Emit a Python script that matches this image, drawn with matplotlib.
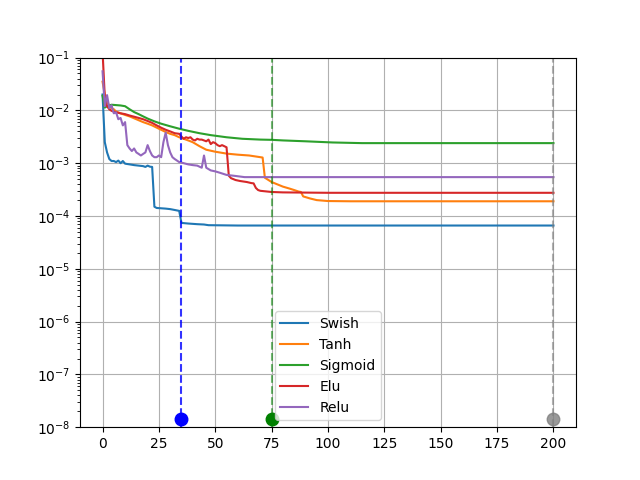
import matplotlib
matplotlib.use("Agg")
import matplotlib.pyplot as plt

swish_x = [0, 1, 2, 3, 4, 5, 6, 7, 8, 9, 10, 12, 14, 16, 18, 19, 20, 21, 22, 23,
           24, 26, 28, 30, 32, 34, 35, 38, 42, 45, 47, 60, 100, 150, 200]
swish_y = [0.02, 2.5e-3, 1.6e-3, 1.2e-3, 1.1e-3, 1.1e-3, 1.05e-3, 1.12e-3, 1.0e-3,
           1.1e-3, 0.98e-3, 0.95e-3, 0.92e-3, 0.9e-3, 0.88e-3, 0.85e-3, 0.9e-3,
           0.86e-3, 0.85e-3, 1.5e-4, 1.42e-4, 1.4e-4, 1.38e-4, 1.35e-4, 1.3e-4,
           1.25e-4, 7.4e-5, 7.2e-5, 7.0e-5, 6.9e-5, 6.7e-5, 6.6e-5, 6.6e-5, 6.6e-5, 6.6e-5]

tanh_x = [0, 1, 2, 3, 4, 5, 6, 8, 10, 12, 15, 18, 20, 22, 25, 28, 30, 32, 34, 36,
          38, 40, 43, 46, 50, 55, 60, 65, 70, 71, 72, 75, 78, 80, 83, 85, 87, 88,
          89, 92, 95, 100, 110, 150, 200]
tanh_y = [0.035, 0.02, 0.015, 0.012, 0.011, 0.0105, 0.0095, 0.0088, 0.0082, 0.0077,
          0.0068, 0.006, 0.0056, 0.0052, 0.0045, 0.0039, 0.0036, 0.0034, 0.0031,
          0.0029, 0.0027, 0.0025, 0.0021, 0.0018, 0.00165, 0.00152, 0.00145,
          0.0014, 0.0013, 0.00128, 5.3e-4, 4.4e-4, 3.9e-4, 3.6e-4, 3.3e-4, 3.1e-4,
          2.9e-4, 2.85e-4, 2.35e-4, 2.15e-4, 2.0e-4, 1.92e-4, 1.9e-4, 1.9e-4, 1.9e-4]

sigmoid_x = [0, 1, 2, 4, 6, 8, 10, 12, 14, 16, 18, 20, 23, 26, 30, 34, 38, 43, 48,
             55, 62, 70, 75, 80, 90, 102, 115, 132, 150, 200]
sigmoid_y = [0.019, 0.0113, 0.012, 0.0128, 0.0126, 0.0124, 0.012, 0.0105, 0.0093,
             0.0085, 0.0077, 0.007, 0.0062, 0.0056, 0.005, 0.0045, 0.0041, 0.0037,
             0.0034, 0.0031, 0.0029, 0.0028, 0.00277, 0.0027, 0.0026, 0.00247,
             0.0024, 0.0024, 0.0024, 0.0024]

elu_x = [0, 1, 2, 3, 4, 5, 6, 8, 10, 12, 14, 16, 18, 20, 22, 24, 26, 28, 30, 32,
         34, 35, 36, 37, 38, 39, 40, 41, 42, 43, 44, 45, 46, 47, 48, 49, 50, 51,
         52, 53, 54, 55, 56, 57, 59, 61, 64, 66, 67, 68, 69, 70, 75, 80, 100, 150, 200]
elu_y = [0.13, 0.018, 0.012, 0.0105, 0.0098, 0.0095, 0.0092, 0.0088, 0.0085, 0.008,
         0.0076, 0.0072, 0.0068, 0.0063, 0.0058, 0.0052, 0.0047, 0.0043, 0.004,
         0.0037, 0.0036, 0.0032, 0.0029, 0.0031, 0.003, 0.0031, 0.0028, 0.0027,
         0.0029, 0.0028, 0.0028, 0.0027, 0.0026, 0.0028, 0.0023, 0.0025, 0.0024,
         0.0022, 0.0021, 0.0022, 0.0021, 0.002, 5.8e-4, 5.2e-4, 4.8e-4, 4.6e-4,
         4.4e-4, 4.2e-4, 4.15e-4, 3.4e-4, 3.1e-4, 3.0e-4, 2.85e-4, 2.8e-4,
         2.75e-4, 2.75e-4, 2.75e-4]

relu_x = [0, 1, 2, 3, 4, 5, 6, 7, 8, 9, 10, 11, 12, 13, 14, 15, 16, 17, 18, 19,
          20, 21, 22, 23, 24, 25, 26, 27, 28, 29, 30, 31, 32, 34, 36, 38, 40, 42,
          44, 45, 46, 48, 50, 52, 55, 58, 63, 100, 200]
relu_y = [0.055, 0.012, 0.0195, 0.011, 0.0125, 0.0088, 0.0092, 0.0068, 0.0072,
          0.0052, 0.006, 0.0022, 0.0019, 0.0017, 0.0019, 0.0016, 0.0015, 0.0014,
          0.0015, 0.0016, 0.0022, 0.0017, 0.0014, 0.0013, 0.0013, 0.0014, 0.0013,
          0.0025, 0.0038, 0.0022, 0.0016, 0.0013, 0.0012, 0.00105, 0.001,
          0.00095, 0.00092, 0.0009, 0.00082, 0.0014, 0.00082, 0.00073, 0.0007,
          0.00066, 0.0006, 0.00058, 0.000545, 0.000545, 0.000545]

# epochs marked with vertical lines and dots
mark_epochs = [35, 75, 200]
mark_colors = ["blue", "green", "gray"]
mark_line_alpha = [0.8, 0.55, 0.6]
mark_dot_alpha = [1.0, 1.0, 0.8]
mark_level = 1.4e-8

plt.figure(figsize=(6.4, 4.8), dpi=100)
plt.plot(swish_x, swish_y, label="Swish")
plt.plot(tanh_x, tanh_y, label="Tanh")
plt.plot(sigmoid_x, sigmoid_y, label="Sigmoid")
plt.plot(elu_x, elu_y, label="Elu")
plt.plot(relu_x, relu_y, label="Relu")

for ep, c, la, da in zip(mark_epochs, mark_colors, mark_line_alpha, mark_dot_alpha):
    plt.axvline(ep, color=c, linestyle="--", alpha=la)
    plt.plot(ep, mark_level, "o", color=c, markersize=9, alpha=da)

plt.yscale("log")
plt.ylim(1e-8, 1e-1)
plt.xlim(-10, 210)
plt.grid(True)
plt.legend(loc="lower center")
plt.savefig("out.png")
